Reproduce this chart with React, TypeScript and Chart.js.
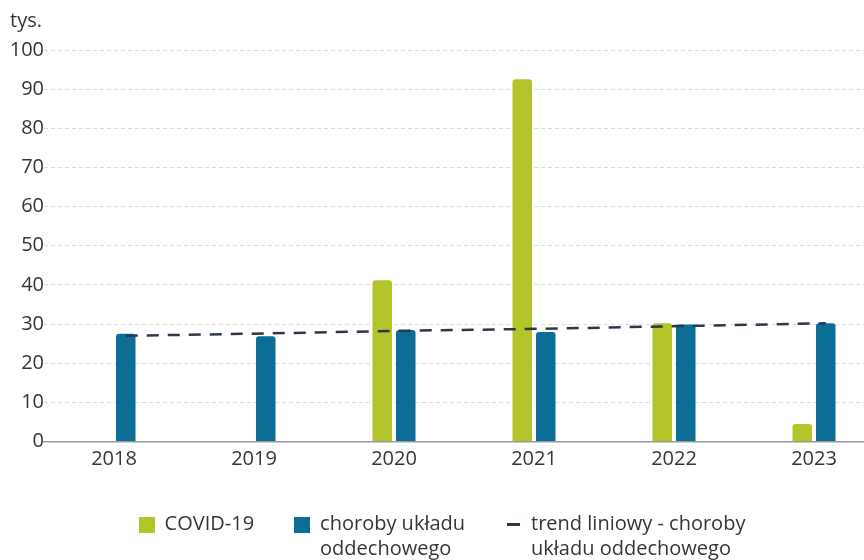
import React, { useEffect, useRef } from 'react';
import { Chart, registerables } from 'chart.js';

Chart.register(...registerables);

// ---- data ----
const years = ['2018', '2019', '2020', '2021', '2022', '2023'];
const covid: (number | null)[] = [null, null, 41.2, 92.5, 30.2, 4.5];
const respiratory = [27.5, 26.9, 28.5, 28.0, 29.9, 30.2];
const trend = [27.0, 27.6, 28.3, 28.8, 29.5, 30.2];
const unitLabel = 'tys.';
const seriesNames = ['COVID-19', 'choroby układu oddechowego', 'trend liniowy - choroby układu oddechowego'];
const legendLines: string[][] = [
  ['COVID-19'],
  ['choroby układu', 'oddechowego'],
  ['trend liniowy - choroby', 'układu oddechowego'],
];

// ---- styles ----
const GREEN = '#b3c52b';
const BLUE = '#0c6e96';
const NAVY = '#2c384c';
const TEXT = '#363636';
const FONT = "'Open Sans', sans-serif";
const FS = 20;

function makeSquare(color: string, size: number) {
  const c = document.createElement('canvas');
  c.width = size;
  c.height = size;
  const g = c.getContext('2d')!;
  g.fillStyle = color;
  g.fillRect(0, 0, size, size);
  return c;
}

function makeDash(color: string, w: number, h: number) {
  const c = document.createElement('canvas');
  c.width = w;
  c.height = h;
  const g = c.getContext('2d')!;
  g.fillStyle = color;
  g.fillRect(0, 0, w, h);
  return c;
}

// multi-line legend text whose measured width is its longest line
function multiline(lines: string[]) {
  const arr: any = lines.slice();
  const longest = lines.reduce((a, b) => (a.length >= b.length ? a : b));
  arr.toString = () => longest;
  return arr;
}

const unitPlugin = {
  id: 'unitLabel',
  afterDraw(chart: any) {
    const ctx = chart.ctx;
    ctx.save();
    ctx.font = `${FS}px ${FONT}`;
    ctx.fillStyle = TEXT;
    ctx.textAlign = 'left';
    ctx.textBaseline = 'middle';
    ctx.fillText(unitLabel, 10, 21);
    ctx.restore();
  },
};

// give the legend box room for the second text line
const legendSpacePlugin = {
  id: 'legendSpace',
  beforeLayout(chart: any) {
    const lg: any = chart.legend;
    if (lg && !lg.__patched) {
      const orig = lg.fit;
      lg.fit = function (this: any) {
        orig.call(this);
        this.height += 30;
      };
      lg.__patched = true;
    }
  },
};

export default function App() {
  const ref = useRef<HTMLCanvasElement | null>(null);

  useEffect(() => {
    if (!ref.current) return;
    const icons = [makeSquare(GREEN, 16), makeSquare(BLUE, 16), makeDash(NAVY, 13, 3)];

    const chart = new Chart(ref.current, {
      type: 'bar',
      data: {
        labels: years,
        datasets: [
          {
            type: 'bar',
            indexAxis: 'x',
            label: seriesNames[0],
            data: covid,
            backgroundColor: GREEN,
            borderRadius: 3,
            categoryPercentage: 0.336,
            barPercentage: 0.83,
            order: 1,
          },
          {
            type: 'bar',
            indexAxis: 'x',
            label: seriesNames[1],
            data: respiratory,
            backgroundColor: BLUE,
            borderRadius: 3,
            categoryPercentage: 0.336,
            barPercentage: 0.83,
            order: 1,
          },
          {
            type: 'line',
            indexAxis: 'x',
            xAxisID: 'x2',
            label: seriesNames[2],
            data: trend.map((v, i) => ({ x: i, y: v })),
            borderColor: NAVY,
            backgroundColor: NAVY,
            borderWidth: 2.5,
            borderDash: [12, 9],
            pointRadius: 0,
            fill: false,
            order: 0,
          },
        ],
      } as any,
      options: {
        indexAxis: 'y',
        responsive: false,
        animation: false,
        devicePixelRatio: 1,
        layout: { padding: { top: 50, left: 0, right: 0, bottom: 5.5 } },
        plugins: {
          tooltip: { enabled: false },
          title: { display: false },
          legend: {
            position: 'bottom',
            labels: {
              usePointStyle: true,
              boxWidth: 16,
              boxHeight: 16,
              padding: 40,
              color: TEXT,
              font: { family: FONT, size: FS, lineHeight: 1.25 },
              sort: (a: any, b: any) => a.datasetIndex - b.datasetIndex,
              generateLabels: (ch: any) => {
                const items = (Chart.defaults.plugins.legend.labels as any).generateLabels(ch);
                return items.map((it: any) => ({
                  ...it,
                  text: multiline(legendLines[it.datasetIndex]),
                  pointStyle: icons[it.datasetIndex],
                  lineWidth: 0,
                }));
              },
            },
          },
        },
        scales: {
          x: {
            type: 'category',
            offset: true,
            grid: { display: false, drawTicks: false, offset: true },
            border: { display: true, color: '#9a9a9a', width: 1.5 },
            ticks: { color: TEXT, font: { family: FONT, size: FS }, padding: 6 },
            afterFit: (s: any) => {
              s.height = 33;
            },
          },
          x2: {
            type: 'linear',
            display: false,
            offset: false,
            grid: { offset: false },
            min: -0.584,
            max: 5.416,
          },
          y: {
            type: 'linear',
            offset: false,
            min: 0,
            max: 100,
            ticks: { stepSize: 10, color: TEXT, font: { family: FONT, size: FS }, padding: 0 },
            grid: { color: '#dcdcdc', lineWidth: 1, drawTicks: false, offset: false },
            border: { display: false, dash: [4, 3] },
            afterFit: (s: any) => {
              s.width = 44;
            },
          },
        },
      } as any,
      plugins: [unitPlugin, legendSpacePlugin],
    });

    return () => chart.destroy();
  }, []);

  return (
    <div
      style={{
        position: 'absolute',
        left: 0,
        top: 0,
        width: 864,
        height: 560,
        overflow: 'hidden',
        background: '#fff',
      }}
    >
      <canvas ref={ref} width={884} height={580} style={{ display: 'block', width: 884, height: 580 }} />
    </div>
  );
}
